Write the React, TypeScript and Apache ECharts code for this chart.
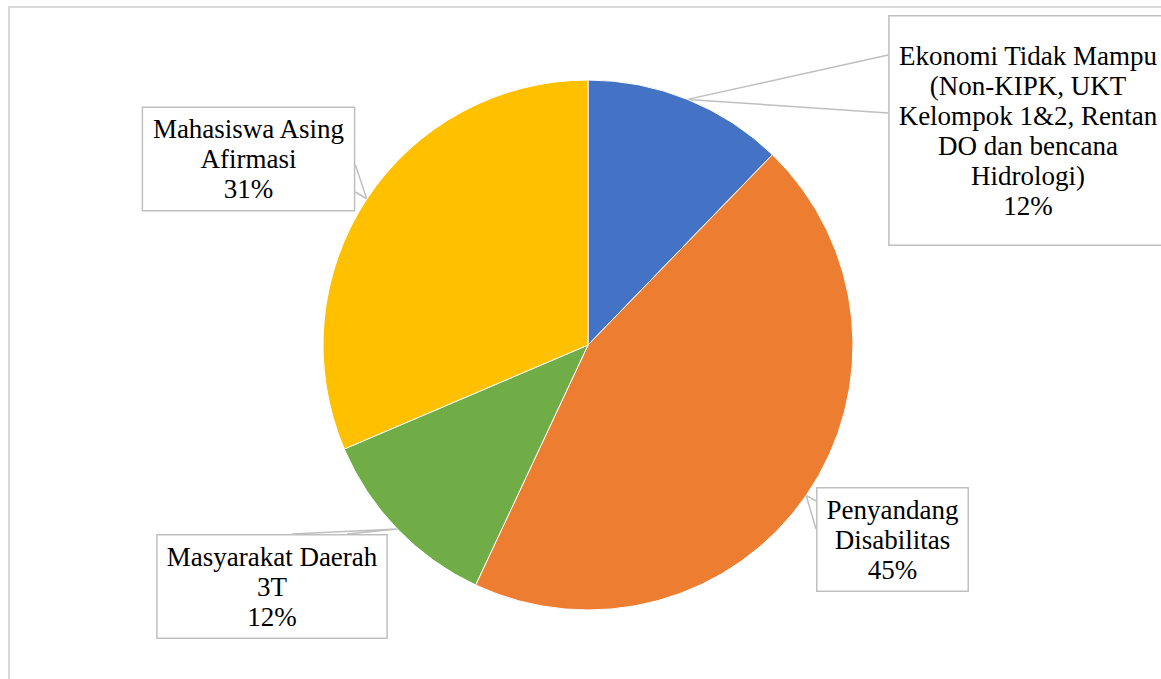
import React, { useEffect, useRef } from "react";
import * as echarts from "echarts";

const categories = [
  "Ekonomi Tidak Mampu (Non-KIPK, UKT Kelompok 1&2, Rentan DO dan bencana Hidrologi)",
  "Penyandang Disabilitas",
  "Masyarakat Daerah 3T",
  "Mahasiswa Asing Afirmasi",
];
const labelNames = [
  "Ekonomi Tidak Mampu\n(Non-KIPK, UKT\nKelompok 1&2, Rentan\nDO dan bencana\nHidrologi)",
  "Penyandang\nDisabilitas",
  "Masyarakat Daerah\n3T",
  "Mahasiswa Asing\nAfirmasi",
];
const values = [12.25, 44.72, 11.61, 31.42];
const colors = ["#4472C4", "#ED7D31", "#70AD47", "#FFC000"];

// label box centres (layout)
const labelCenters = [
  [1028, 130.5],
  [892.5, 539.5],
  [272, 586.5],
  [248.5, 159],
];
const labelPaddings = [
  [24, 9],
  [6, 9],
  [6, 9],
  [6, 9],
];
// callout wedge: which side of the box, and two offsets along that side from the box centre
const wedgeSides = ["left", "left", "top", "right"];
const wedgeOffsets = [
  [-75.5, -17.5],
  [-38.5, -10.5],
  [20, 75],
  [6, 33],
];

const FONT = "Liberation Serif";

export default function App() {
  const ref = useRef<HTMLDivElement>(null);
  useEffect(() => {
    if (!ref.current) return;
    const chart = echarts.init(ref.current, null, { renderer: "svg" });
    chart.setOption({
      animation: false,
      backgroundColor: "#ffffff",
      textStyle: { fontFamily: FONT },
      graphic: [
        {
          type: "rect",
          shape: { x: 9, y: 7, width: 1200, height: 720 },
          style: { fill: "none", stroke: "#d9d9d9", lineWidth: 2 },
          silent: true,
        },
      ],
      series: [
        {
          type: "pie",
          center: [588, 345],
          radius: 265,
          startAngle: 90,
          clockwise: true,
          percentPrecision: 0,
          itemStyle: { borderColor: "#ffffff", borderWidth: 1 },
          data: categories.map((c, i) => ({
            name: c,
            value: values[i],
            itemStyle: { color: colors[i] },
            label: { padding: labelPaddings[i] },
          })),
          label: {
            show: true,
            position: "outside",
            formatter: (p: any) => labelNames[p.dataIndex] + "\n" + p.percent + "%",
            fontFamily: FONT,
            fontSize: 27,
            lineHeight: 30,
            color: "#000000",
            align: "center",
            backgroundColor: "#ffffff",
            borderColor: "#bfbfbf",
            borderWidth: 1.5,
          },
          labelLine: {
            show: true,
            length: 6,
            length2: 6,
            lineStyle: { color: "#bfbfbf", width: 1.5 },
          },
          labelLayout: (params: any) => {
            const i = params.dataIndex;
            const c = labelCenters[i];
            const w = params.labelRect.width;
            const h = params.labelRect.height;
            const side = wedgeSides[i];
            const off = wedgeOffsets[i];
            const pts0 = params.labelLinePoints;
            const tip = pts0 && pts0[0] ? [pts0[0][0], pts0[0][1]] : null;
            let a: number[], b: number[];
            if (side === "left") {
              a = [c[0] - w / 2, c[1] + off[0]];
              b = [c[0] - w / 2, c[1] + off[1]];
            } else if (side === "right") {
              a = [c[0] + w / 2, c[1] + off[0]];
              b = [c[0] + w / 2, c[1] + off[1]];
            } else {
              a = [c[0] + off[0], c[1] - h / 2];
              b = [c[0] + off[1], c[1] - h / 2];
            }
            const res: any = {
              x: c[0],
              y: c[1],
              align: "center",
              verticalAlign: "middle",
            };
            if (tip) res.labelLinePoints = [a, tip, b];
            return res;
          },
          emphasis: { disabled: true },
        },
      ],
    });
    return () => chart.dispose();
  }, []);
  return (
    <div
      ref={ref}
      style={{ position: "fixed", left: 0, top: 0, width: 1161, height: 679 }}
    />
  );
}
